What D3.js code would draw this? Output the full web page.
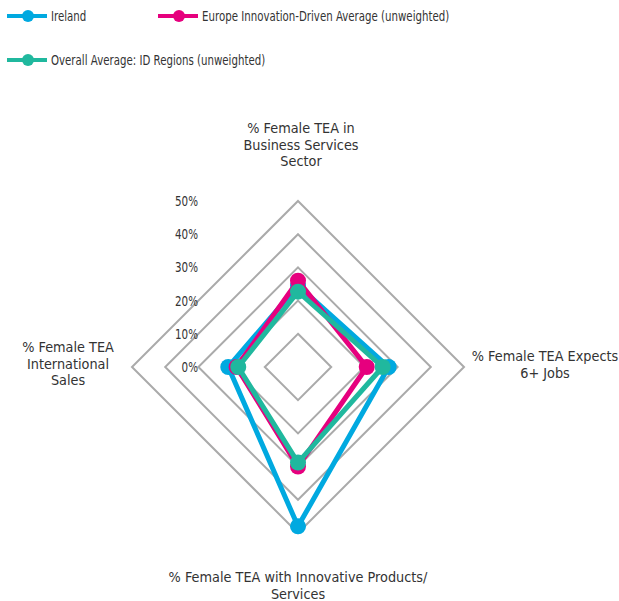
<!DOCTYPE html>
<html>
<head>
<meta charset="utf-8">
<script src="https://cdn.jsdelivr.net/npm/d3@7"></script>
<style>
  body { margin: 0; background: #fff; }
  svg text { font-family: "DejaVu Sans", sans-serif; font-size: 14px; fill: #333; }
</style>
</head>
<body>
<svg width="619" height="601"></svg>
<script>
// axes (clockwise from top)
const axes = [
  "% Female TEA in Business Services Sector",
  "% Female TEA Expects 6+ Jobs",
  "% Female TEA with Innovative Products/ Services",
  "% Female TEA International Sales"
];
const seriesNames = [
  "Ireland",
  "Europe Innovation-Driven Average (unweighted)",
  "Overall Average: ID Regions (unweighted)"
];
const ireland = [0.245, 0.273, 0.48, 0.21];
const europe = [0.26, 0.207, 0.30, 0.185];
const overall = [0.227, 0.255, 0.288, 0.18];
const ticks = [0, 0.1, 0.2, 0.3, 0.4, 0.5];
const colors = ["#00a9e0", "#e6007e", "#20b89e"];

const svg = d3.select("svg");
const cx = 298, cy = 367;
const r = d3.scaleLinear().domain([0, 0.5]).range([0, 166]);
const angle = i => (i / axes.length) * 2 * Math.PI;
const pt = (v, i) => [cx + r(v) * Math.sin(angle(i)), cy - r(v) * Math.cos(angle(i))];

// no condensed font installed, so squeeze text horizontally
const addText = (x, y, str, anchor, squeeze) =>
  svg.append("text")
    .attr("transform", `translate(${x},${y}) scale(${squeeze},1)`)
    .attr("text-anchor", anchor)
    .text(str);

// grid rings
ticks.slice(1).forEach(t => {
  svg.append("polygon")
    .attr("points", axes.map((a, i) => pt(t, i).join(",")).join(" "))
    .attr("fill", "none")
    .attr("stroke", "#aaa")
    .attr("stroke-width", 2);
});

// tick labels
ticks.forEach(t => addText(198, cy - r(t) + 5, d3.format(".0%")(t), "end", 0.74));

// series
const allSeries = [ireland, europe, overall];
allSeries.forEach((s, k) => {
  const g = svg.append("g");
  g.append("polygon")
    .attr("points", s.map((v, i) => pt(v, i).join(",")).join(" "))
    .attr("fill", "none")
    .attr("stroke", colors[k])
    .attr("stroke-width", 5)
    .attr("stroke-linejoin", "round");
  g.selectAll("circle")
    .data(s)
    .enter()
    .append("circle")
    .attr("cx", (d, i) => pt(d, i)[0])
    .attr("cy", (d, i) => pt(d, i)[1])
    .attr("r", 8)
    .attr("fill", colors[k]);
});

// axis labels, manually wrapped
const axisLines = [
  ["% Female TEA in", "Business Services", "Sector"],
  ["% Female TEA Expects", "6+ Jobs"],
  ["% Female TEA with Innovative Products/", "Services"],
  ["% Female TEA", "International", "Sales"]
];
const labelPos = [[301, 133], [545, 361], [298, 582], [68, 352]];
axisLines.forEach((lines, i) => {
  lines.forEach((l, j) => addText(labelPos[i][0], labelPos[i][1] + j * 16.5, l, "middle", 0.92));
});

// legend
const legendPos = [[7, 16], [158, 16], [7, 60]];
seriesNames.forEach((name, k) => {
  const [x, y] = legendPos[k];
  svg.append("line").attr("x1", x).attr("x2", x + 40).attr("y1", y).attr("y2", y)
    .attr("stroke", colors[k]).attr("stroke-width", 4);
  svg.append("circle").attr("cx", x + 21).attr("cy", y).attr("r", 6).attr("fill", colors[k]);
  addText(x + 44, y + 5, name, "start", 0.73);
});
</script>
</body>
</html>
